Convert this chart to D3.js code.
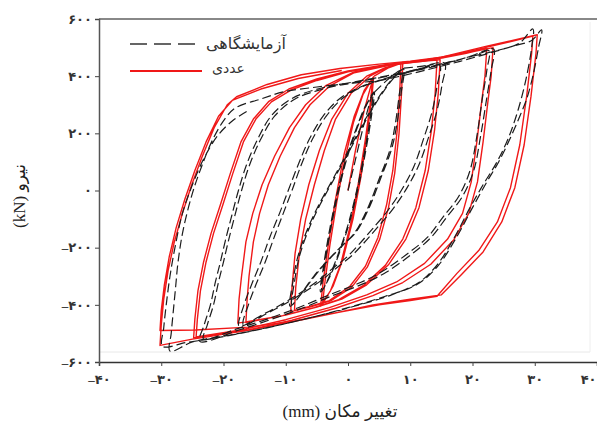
<!DOCTYPE html>
<html>
<head>
<meta charset="utf-8">
<script src="https://d3js.org/d3.v7.min.js"></script>
<style>
  body { margin: 0; background: #fff; }
  svg { display: block; }
  .tick text { font-family: "Liberation Serif", "DejaVu Sans", serif; font-size: 13px; font-weight: bold; fill: #333; }
  .ttl { font-family: "Liberation Serif", "DejaVu Sans", serif; fill: #222; }
  .leg { font-family: "DejaVu Sans", sans-serif; fill: #333; }
</style>
</head>
<body>
<div id="chart"></div>
<script>
// axis ticks
const xTickValues = [-40, -30, -20, -10, 0, 10, 20, 30, 40];
const xTickLabels = ["–۴۰", "–۳۰", "–۲۰", "–۱۰", "۰", "۱۰", "۲۰", "۳۰", "۴۰"];
const yTickValues = [-600, -400, -200, 0, 200, 400, 600];
const yTickLabels = ["–۶۰۰", "–۴۰۰", "–۲۰۰", "۰", "۲۰۰", "۴۰۰", "۶۰۰"];
const seriesNames = ["آزمایشگاهی", "عددی"];

// experimental loops [displacement mm, force kN]
const exp_4mm = [[0,0],[1,90],[2.2,200],[3.4,300],[4,340],
  [3.6,260],[2.7,140],[1.5,10],[0,-120],[-1.7,-230],[-3.2,-310],[-4.2,-350],
  [-3.8,-270],[-2.9,-150],[-1.7,-20],[-0.2,110],[1.5,220],[3,300],[4.2,345],
  [3.8,265],[2.9,145],[1.7,15],[0.2,-115],[-1.5,-225],[-3,-305],[-4.4,-355],
  [-4,-275],[-3.1,-155],[-1.9,-25],[-0.4,105],[1.3,215],[2.9,300],[4.3,345]];
const exp_9mm = [[4.3,345],[6.5,390],[8.6,420],
  [8.2,330],[7.5,220],[6.7,140],[5,40],[3,-70],[1,-150],[-1.3,-200],[-3.5,-250],[-5.5,-300],[-7.5,-360],[-9,-400],
  [-8.6,-320],[-7.8,-230],[-6.2,-130],[-4.5,-50],[-2.5,30],[-0.5,110],[1.5,190],[3.5,270],[5.5,340],[7.2,390],[8.9,425],
  [8.5,335],[7.8,225],[7,145],[5.3,45],[3.3,-65],[1.3,-145],[-1,-195],[-3.2,-245],[-5.2,-295],[-7.3,-355],[-9.3,-405],
  [-8.9,-325],[-8.1,-235],[-6.5,-135],[-4.8,-55],[-2.8,25],[-0.8,105],[1.2,185],[3.2,265],[5.3,338],[7.1,390],[9,428]];
const exp_16mm = [[9,428],[12,435],[15.5,445],
  [15.1,370],[14.3,280],[13,190],[11.4,90],[9.5,10],[7.2,-65],[4.7,-130],[2.5,-185],[0.5,-230],[-1.8,-270],[-4,-310],[-7,-355],[-10,-395],[-13,-430],[-16.8,-470],
  [-16,-400],[-14.8,-330],[-13.3,-250],[-11.8,-160],[-10.4,-80],[-9,0],[-7.5,90],[-5.7,180],[-3.5,260],[-1,320],[2,360],[6,390],[10,415],[14.7,440],
  [14.3,365],[13.5,275],[12.2,185],[10.6,85],[8.7,5],[6.4,-70],[3.9,-135],[1.7,-190],[-0.3,-235],[-2.6,-275],[-4.8,-315],[-7.8,-360],[-10.8,-400],[-13.8,-435],[-17.5,-475],
  [-16.7,-400],[-15.5,-330],[-14,-250],[-12.5,-160],[-11,-80],[-9.6,0],[-8,90],[-6.2,180],[-4,260],[-1.3,322],[2,362],[6,392],[10,418],[14,438],[17.5,455]];
const exp_23mm = [[17.5,455],[20,472],[22.6,490],
  [22.3,420],[21.6,325],[20.7,190],[19.6,70],[17.8,-20],[15.2,-95],[12.7,-165],[9.5,-222],[5.6,-282],[2,-322],[-3,-365],[-8,-410],[-13,-450],[-18,-485],[-23.2,-520],
  [-22.6,-470],[-21.6,-400],[-20.8,-320],[-20,-250],[-19.2,-175],[-18.2,-90],[-17.1,0],[-15.8,90],[-14,180],[-11.8,260],[-8.5,320],[-4,355],[1,378],[6,398],[11,420],[16,445],[21.2,480],[23.4,495],
  [23,420],[22.3,325],[21.3,190],[20.2,70],[18.4,-20],[15.8,-95],[13.3,-165],[10.1,-225],[6.2,-285],[2.6,-325],[-2.5,-368],[-7.5,-413],[-12.5,-452],[-17.5,-488],[-23.8,-528],
  [-23.1,-470],[-22.1,-400],[-21.3,-320],[-20.5,-250],[-19.7,-175],[-18.7,-90],[-17.6,0],[-16.3,90],[-14.5,180],[-12.3,262],[-9,322],[-4.5,357],[1,380],[6,400],[11,422],[16,448],[20,470]];
const exp_30mm = [[20,470],[24,490],[27.5,515],[29.7,565],
  [29.5,500],[28.6,390],[27.3,280],[25.7,180],[23.8,95],[21.7,20],[19.6,-60],[17.2,-160],[14.5,-255],[11.5,-320],[7,-365],[1,-405],[-6,-445],[-13,-480],[-20,-510],[-25,-530],[-28.6,-562],
  [-28.4,-500],[-28.1,-430],[-27.7,-340],[-27.3,-250],[-26.5,-140],[-25,-10],[-23.5,85],[-21.8,175],[-19.8,250],[-18,290],[-14,320],[-10.4,345],[-5,362],[0.3,375],[5,385],[8,398],[13.2,425],[18,452],[22.3,478],[26.5,505],[29.5,525],[31.1,562],
  [30.6,500],[29.8,410],[28.7,320],[27.6,260],[26,180],[24.2,100],[22.3,30],[20,-60],[17.4,-165],[14.3,-268],[11,-330],[6,-370],[0,-410],[-7,-450],[-14,-485],[-21,-515],[-26,-532],[-29.8,-545],
  [-29.6,-480],[-29.2,-400],[-28.6,-300],[-27.8,-200],[-26.6,-80],[-25,20],[-23.2,110],[-21,190],[-18.5,245],[-16,280]];

// numerical loops [displacement mm, force kN]
const num_4mm = [[0,0],[1.2,140],[2.6,280],[3.6,360],[4.1,392],
  [3.8,320],[3.1,200],[2.1,50],[0.8,-100],[-0.8,-240],[-2.4,-335],[-4.1,-398],
  [-3.7,-320],[-2.9,-190],[-1.8,-40],[-0.5,110],[0.9,240],[2.4,335],[4.0,395],
  [3.6,310],[2.8,180],[1.7,30],[0.4,-120],[-1.2,-260],[-2.8,-350],[-4.4,-404],
  [-4.0,-320],[-3.1,-180],[-2.0,-30],[-0.6,130],[1.0,260],[2.6,350],[4.2,400]];
const num_9mm = [[4.2,400],[6.4,428],[8.5,445],
  [8.3,340],[7.9,210],[7.2,70],[6.2,-50],[4.8,-165],[2.8,-265],[0.3,-335],[-3,-385],[-6,-405],[-8.6,-420],
  [-8.4,-340],[-7.8,-220],[-6.8,-100],[-5.4,20],[-3.8,140],[-2,250],[0.5,340],[3.5,400],[6,428],[8.8,448],
  [8.6,340],[8.2,200],[7.5,60],[6.5,-60],[5.1,-170],[3.1,-268],[0.6,-338],[-2.8,-386],[-6,-407],[-9.2,-424],
  [-9,-340],[-8.5,-220],[-7.6,-100],[-6.3,20],[-4.6,140],[-2.6,250],[0,340],[3,400],[6,430],[8.8,448]];
const num_16mm = [[8.8,448],[11.5,452],[14.8,458],
  [14.5,340],[13.9,210],[12.9,70],[11.4,-60],[9.3,-170],[6.5,-260],[3,-330],[-1,-380],[-5,-408],[-10,-436],[-13.5,-450],[-16.4,-462],
  [-16.2,-380],[-15.9,-300],[-15.2,-180],[-14.2,-80],[-12.8,20],[-10.9,120],[-8.6,220],[-6.1,300],[-3,365],[1,412],[7,440],[11,450],[14.3,456],
  [14,340],[13.4,210],[12.4,70],[10.9,-60],[8.8,-170],[6,-262],[2.5,-332],[-1.5,-382],[-5.5,-410],[-10.5,-438],[-17.7,-464],
  [-17.5,-380],[-17.1,-300],[-16.4,-180],[-15.3,-80],[-13.8,20],[-11.8,120],[-9.4,220],[-6.8,300],[-3.5,368],[1,415],[7,442],[12,456],[15.5,465]];
const num_23mm = [[15.5,465],[19,480],[22.3,497],
  [22,400],[21.5,315],[20.7,170],[19.8,30],[18.4,-80],[16,-170],[12.3,-255],[7.8,-320],[3,-365],[-3,-410],[-10,-452],[-17,-487],[-24.4,-512],
  [-24.2,-450],[-23.7,-350],[-22.8,-250],[-21.6,-150],[-20.1,-50],[-18.5,60],[-16.8,170],[-14.8,250],[-12.3,310],[-9.1,352],[-5,385],[0,415],[6,437],[12,452],[17,472],[23.3,500],
  [23,400],[22.5,315],[21.7,170],[20.8,30],[19.4,-80],[17,-172],[13.3,-258],[8.8,-322],[4,-368],[-2,-412],[-9,-454],[-16,-488],[-24.8,-516],
  [-24.6,-450],[-24.1,-350],[-23.2,-250],[-22,-150],[-20.5,-50],[-18.9,60],[-17.2,170],[-15.2,250],[-12.7,312],[-9.5,355],[-5,390],[0,418],[6,440],[12,455],[17,474],[22,500]];
const num_30mm = [[22,500],[26,520],[29.7,540],
  [29.5,480],[28.7,330],[27.6,160],[26.1,10],[24,-110],[21,-210],[17.5,-290],[14.3,-370],[10,-385],[5,-400],[-1.3,-425],[-8,-455],[-15,-485],[-22.6,-512],[-25,-520],[-30.2,-542],
  [-30,-470],[-29.6,-380],[-28.9,-280],[-27.9,-180],[-26.6,-80],[-25.1,20],[-23.4,120],[-21.5,220],[-19.4,300],[-17.9,328],[-13,371],[-7.5,405],[-1.3,427],[5,442],[10,452],[15,466],[22.3,505],[30.4,545],
  [30.2,480],[29.4,330],[28.3,160],[26.8,10],[24.7,-110],[21.7,-215],[18.2,-295],[15,-365],[10,-380],[4,-400],[-2,-428],[-9,-458],[-16,-478],[-24.5,-488],[-30.2,-490],
  [-30,-420],[-29.5,-330],[-28.7,-230],[-27.6,-130],[-26.2,-30],[-24.6,70],[-22.8,170],[-20.8,260],[-18.6,315],[-14,355],[-8,392],[-1,420]];

const expLoops = [exp_4mm, exp_9mm, exp_16mm, exp_23mm, exp_30mm];
const numLoops = [num_4mm, num_9mm, num_16mm, num_23mm, num_30mm];

const width = 597, height = 424;
const svg = d3.select("#chart").append("svg")
    .attr("width", width).attr("height", height);

const x = d3.scaleLinear().domain([-40, 40]).range([99, 597]);
const y = d3.scaleLinear().domain([-600, 600]).range([362, 19]);

// faint inner frame of the scan
svg.append("line").attr("x1", 100).attr("x2", 590).attr("y1", 352).attr("y2", 352)
    .attr("stroke", "#e8e8e8").attr("stroke-width", 1);
svg.append("line").attr("x1", 590).attr("x2", 590).attr("y1", 22).attr("y2", 352)
    .attr("stroke", "#eeeeee").attr("stroke-width", 1);

// top frame line
svg.append("line").attr("x1", 99).attr("x2", 597).attr("y1", 19).attr("y2", 19)
    .attr("stroke", "#888").attr("stroke-width", 2);

const xAxis = svg.append("g")
    .attr("transform", "translate(0," + y(-600) + ")")
    .call(d3.axisBottom(x).tickValues(xTickValues)
        .tickFormat((d, i) => xTickLabels[i]).tickSize(4).tickPadding(9));
xAxis.select(".domain").attr("stroke", "#333").attr("stroke-width", 1.5);
xAxis.selectAll(".tick line").attr("stroke", "#444");
// last label sits at the window edge: keep it inside
xAxis.selectAll(".tick text").filter(d => d === 40)
    .attr("text-anchor", "end").attr("dx", -1);

const yAxis = svg.append("g")
    .attr("transform", "translate(" + x(-40) + ",0)")
    .call(d3.axisLeft(y).tickValues(yTickValues)
        .tickFormat((d, i) => yTickLabels[i]).tickSize(4).tickPadding(3));
yAxis.select(".domain").attr("stroke", "#555").attr("stroke-width", 1.5);
yAxis.selectAll(".tick line").attr("stroke", "#444");

const line = d3.line().x(d => x(d[0])).y(d => y(d[1]));
const smooth = d3.line().x(d => x(d[0])).y(d => y(d[1])).curve(d3.curveCatmullRom.alpha(0.5));

svg.append("g").selectAll("path.num")
    .data(numLoops).enter().append("path")
    .attr("class", "num")
    .attr("d", line)
    .attr("fill", "none")
    .attr("stroke", "#f01818")
    .attr("stroke-width", 1.4)
    .attr("stroke-linejoin", "round");

svg.append("g").selectAll("path.exp")
    .data(expLoops).enter().append("path")
    .attr("class", "exp")
    .attr("d", smooth)
    .attr("fill", "none")
    .attr("stroke", "#1c1c1c")
    .attr("stroke-width", 1.2)
    .attr("stroke-dasharray", "9,4");

// legend
svg.append("line").attr("x1", 130).attr("x2", 202).attr("y1", 44).attr("y2", 44)
    .attr("stroke", "#333").attr("stroke-width", 1.6).attr("stroke-dasharray", "17,7");
svg.append("text").attr("class", "leg").attr("x", 206).attr("y", 49)
    .attr("font-size", 16).text(seriesNames[0]);
svg.append("line").attr("x1", 130).attr("x2", 202).attr("y1", 71).attr("y2", 71)
    .attr("stroke", "#f01818").attr("stroke-width", 2);
svg.append("text").attr("class", "leg").attr("x", 212).attr("y", 73)
    .attr("font-size", 14).text(seriesNames[1]);

// axis titles
svg.append("text").attr("class", "ttl")
    .attr("x", 340).attr("y", 417)
    .attr("direction", "rtl")
    .attr("text-anchor", "middle")
    .attr("font-size", 17)
    .text("تغییر مکان (mm)");
svg.append("text").attr("class", "ttl")
    .attr("transform", "translate(25,196) rotate(-90)")
    .attr("direction", "rtl")
    .attr("text-anchor", "middle")
    .attr("font-size", 17)
    .text("نیرو (kN)");
</script>
</body>
</html>
